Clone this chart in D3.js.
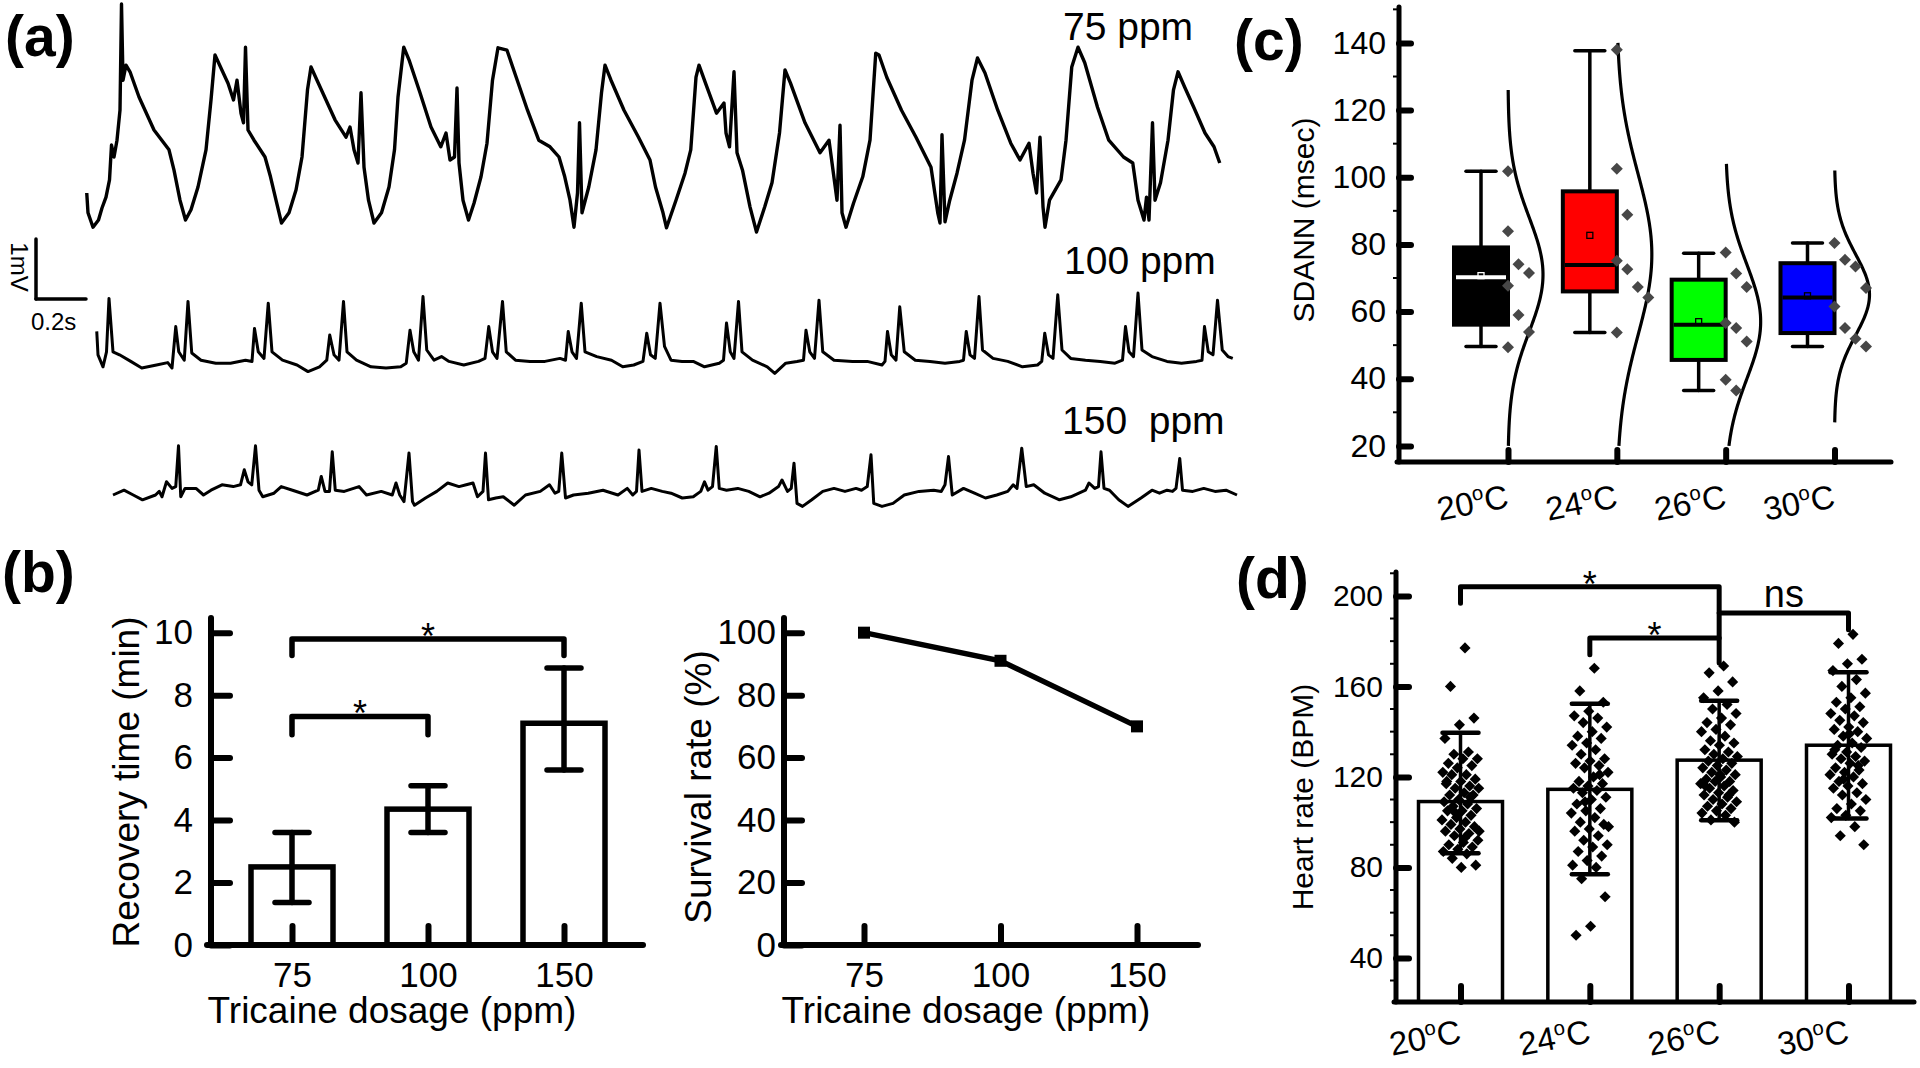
<!DOCTYPE html>
<html><head><meta charset="utf-8">
<script src="https://cdn.jsdelivr.net/npm/d3@7"></script>
<style>
body{margin:0;background:#fff}
svg{display:block}
text{font-family:"Liberation Sans",Arial,Helvetica,sans-serif;fill:#000}
</style>
</head><body>
<svg id="fig" width="1920" height="1068"></svg>
<script>
// ================= DATA =================
// (a) ECG traces: [time (ms), potential (mV)]
const trace75 = [[3,0.65],[8,0.32],[28,0.08],[50,0.20],[64,0.40],[80,0.58],[94,0.87],[102,1.45],[112,1.25],[124,1.53],[136,2.03],[142,3.80],[148,2.53],[160,2.78],[176,2.67],[212,2.25],[272,1.70],[332,1.37],[352,1.03],[376,0.53],[398,0.20],[420,0.37],[448,0.75],[480,1.37],[500,2.20],[516,2.95],[538,2.75],[568,2.48],[590,2.20],[604,2.53],[620,1.98],[630,1.82],[638,3.08],[648,1.70],[672,1.53],[716,1.25],[738,0.92],[760,0.53],[782,0.15],[812,0.32],[840,0.70],[864,1.25],[886,2.37],[900,2.75],[924,2.53],[996,1.87],[1040,1.58],[1056,1.75],[1072,1.37],[1088,1.15],[1100,2.32],[1112,1.08],[1130,0.53],[1152,0.15],[1182,0.32],[1212,0.75],[1234,1.37],[1248,2.25],[1271,3.08],[1292,2.87],[1336,2.32],[1380,1.75],[1419,1.42],[1440,1.65],[1456,1.20],[1474,1.25],[1484,2.40],[1492,1.15],[1508,0.53],[1530,0.20],[1552,0.48],[1580,0.92],[1604,1.48],[1626,2.53],[1648,3.07],[1684,3.03],[1715,2.65],[1766,2.03],[1811,1.53],[1856,1.42],[1892,1.25],[1915,0.92],[1936,0.53],[1952,0.08],[1966,0.65],[1974,1.82],[1984,0.32],[2011,0.75],[2040,1.37],[2062,2.32],[2076,2.78],[2100,2.53],[2152,2.03],[2210,1.58],[2256,1.20],[2278,0.75],[2308,0.32],[2322,0.07],[2360,0.53],[2396,0.98],[2419,1.37],[2440,2.58],[2452,2.78],[2478,2.48],[2522,1.98],[2552,2.15],[2560,1.65],[2574,1.42],[2592,2.67],[2604,1.32],[2626,1.03],[2656,0.42],[2682,0.00],[2715,0.42],[2744,0.82],[2774,1.65],[2796,2.70],[2818,2.48],[2876,1.82],[2936,1.32],[2972,1.53],[2988,1.03],[3004,0.53],[3016,1.78],[3024,0.32],[3040,0.08],[3070,0.48],[3107,0.92],[3136,1.53],[3159,2.98],[3172,2.95],[3203,2.58],[3262,2.03],[3320,1.58],[3351,1.32],[3380,1.08],[3407,0.32],[3416,0.15],[3424,1.62],[3436,0.17],[3455,0.53],[3484,0.98],[3514,1.53],[3544,2.53],[3566,2.90],[3596,2.65],[3647,2.03],[3699,1.48],[3736,1.20],[3772,1.48],[3788,0.98],[3802,0.65],[3816,1.58],[3828,0.42],[3836,0.08],[3854,0.53],[3900,0.87],[3920,1.53],[3943,2.75],[3968,3.08],[3995,2.82],[4046,2.08],[4091,1.53],[4150,1.25],[4187,1.15],[4208,0.53],[4232,0.20],[4242,0.58],[4252,0.20],[4266,1.82],[4276,0.53],[4298,0.82],[4328,1.53],[4350,2.37],[4368,2.67],[4394,2.42],[4431,2.08],[4476,1.65],[4512,1.42],[4535,1.15]];

const trace100 = [[43,0.81],[48,0.42],[68,0.22],[82,0.47],[92,1.36],[108,0.47],[134,0.42],[179,0.31],[223,0.20],[282,0.25],[327,0.29],[344,0.20],[359,0.89],[371,0.47],[393,0.33],[408,1.31],[423,0.45],[460,0.33],[519,0.28],[578,0.28],[638,0.33],[664,0.31],[674,0.86],[689,0.47],[712,0.36],[729,1.28],[744,0.47],[786,0.33],[844,0.25],[888,0.14],[934,0.22],[963,0.33],[975,0.75],[992,0.42],[1012,0.33],[1030,1.31],[1044,0.47],[1082,0.33],[1140,0.22],[1200,0.20],[1259,0.22],[1281,0.28],[1296,0.83],[1311,0.47],[1330,0.33],[1348,1.39],[1363,0.50],[1392,0.33],[1422,0.39],[1452,0.31],[1511,0.25],[1570,0.31],[1596,0.36],[1611,0.89],[1626,0.47],[1644,0.36],[1666,1.31],[1681,0.47],[1718,0.33],[1776,0.31],[1836,0.31],[1896,0.36],[1918,0.33],[1929,0.81],[1944,0.47],[1962,0.36],[1981,1.28],[1996,0.47],[2043,0.39],[2102,0.33],[2147,0.22],[2191,0.25],[2228,0.31],[2243,0.78],[2258,0.42],[2277,0.36],[2296,1.28],[2314,0.56],[2340,0.33],[2384,0.31],[2429,0.31],[2474,0.22],[2533,0.28],[2550,0.33],[2562,0.95],[2577,0.47],[2592,0.36],[2610,1.31],[2624,0.47],[2666,0.33],[2725,0.22],[2755,0.11],[2799,0.28],[2844,0.31],[2870,0.33],[2880,0.83],[2895,0.47],[2914,0.36],[2932,1.33],[2947,0.47],[2992,0.33],[3066,0.31],[3125,0.31],[3184,0.25],[3196,0.31],[3206,0.81],[3221,0.42],[3240,0.33],[3255,1.22],[3273,0.47],[3317,0.33],[3376,0.31],[3436,0.28],[3495,0.31],[3510,0.33],[3521,0.81],[3536,0.42],[3554,0.36],[3572,1.39],[3586,0.50],[3628,0.36],[3687,0.31],[3746,0.22],[3806,0.25],[3823,0.31],[3835,0.78],[3850,0.42],[3868,0.36],[3887,1.42],[3904,0.50],[3939,0.36],[3998,0.33],[4057,0.31],[4116,0.28],[4146,0.33],[4158,0.89],[4172,0.47],[4190,0.39],[4208,1.45],[4224,0.50],[4264,0.39],[4324,0.31],[4382,0.28],[4442,0.31],[4464,0.33],[4474,0.89],[4489,0.47],[4508,0.42],[4526,1.33],[4545,0.50],[4568,0.39],[4587,0.36]];

const trace150 = [[108,0.25],[152,0.33],[189,0.25],[226,0.17],[278,0.25],[293,0.31],[304,0.22],[322,0.47],[344,0.36],[359,0.39],[370,1.07],[379,0.22],[396,0.36],[440,0.36],[470,0.25],[500,0.33],[544,0.42],[589,0.39],[618,0.42],[633,0.67],[648,0.47],[663,0.42],[678,1.07],[692,0.33],[707,0.22],[752,0.28],[781,0.39],[826,0.33],[884,0.25],[929,0.33],[941,0.56],[956,0.31],[974,0.31],[985,0.97],[997,0.33],[1033,0.31],[1092,0.39],[1122,0.25],[1181,0.31],[1225,0.25],[1240,0.45],[1255,0.25],[1272,0.14],[1292,0.95],[1306,0.14],[1314,0.08],[1358,0.20],[1403,0.31],[1447,0.45],[1492,0.39],[1521,0.42],[1548,0.45],[1566,0.22],[1588,0.31],[1598,0.95],[1610,0.17],[1639,0.20],[1669,0.22],[1713,0.08],[1758,0.25],[1817,0.31],[1854,0.42],[1876,0.28],[1891,0.31],[1903,0.95],[1918,0.20],[1950,0.25],[2009,0.28],[2068,0.33],[2128,0.25],[2165,0.36],[2187,0.25],[2202,0.31],[2212,1.00],[2224,0.31],[2261,0.36],[2305,0.31],[2340,0.28],[2385,0.20],[2429,0.22],[2459,0.31],[2474,0.47],[2488,0.33],[2506,0.39],[2521,1.06],[2533,0.36],[2562,0.33],[2607,0.36],[2651,0.31],[2696,0.22],[2732,0.28],[2770,0.39],[2784,0.50],[2806,0.31],[2821,0.36],[2832,0.78],[2844,0.11],[2866,0.06],[2903,0.17],[2947,0.31],[2992,0.36],[3036,0.31],[3080,0.36],[3102,0.33],[3125,0.39],[3140,0.92],[3151,0.11],[3184,0.06],[3228,0.11],[3273,0.25],[3332,0.31],[3391,0.33],[3421,0.31],[3436,0.42],[3450,0.89],[3465,0.25],[3510,0.36],[3554,0.28],[3598,0.20],[3643,0.25],[3687,0.31],[3709,0.42],[3724,0.36],[3743,1.03],[3761,0.39],[3791,0.42],[3835,0.28],[3894,0.17],[3939,0.22],[3998,0.33],[4012,0.45],[4035,0.36],[4050,0.39],[4060,0.97],[4072,0.36],[4094,0.33],[4131,0.17],[4168,0.06],[4220,0.20],[4264,0.33],[4294,0.28],[4324,0.33],[4346,0.31],[4360,0.36],[4375,0.86],[4386,0.33],[4427,0.31],[4471,0.36],[4516,0.31],[4560,0.33],[4604,0.25]];

const traceLabels = ["75 ppm", "100 ppm", "150  ppm"];
const scaleBarTime = 200;   // ms  (0.2 s)
const scaleBarVolt = 1;     // mV

// (b) tricaine dosage
const doses = ["75", "100", "150"];
const recoveryMean = [2.5, 4.35, 7.1];
const recoveryHigh = [3.6, 5.1, 8.87];
const recoveryLow = [1.36, 3.6, 5.6];
const recoveryTicks = [0, 2, 4, 6, 8, 10];
const recoverySig = [
  {a: "75", b: "150", y: 9.8, legA: 9.27, legB: 9.27, label: "*"},
  {a: "75", b: "100", y: 7.32, legA: 6.73, legB: 6.73, label: "*"}
];
const survival = [100, 91, 70];
const survivalTicks = [0, 20, 40, 60, 80, 100];

// (c) SDANN box charts
const temps = ["20", "24", "26", "30"];
const sdannWhiskerLow = [49.6, 53.8, 36.5, 49.6];
const sdannQ1 = [56.1, 66.0, 45.6, 53.6];
const sdannMedian = [70.2, 73.9, 56.1, 64.2];
const sdannQ3 = [79.1, 95.8, 69.5, 74.4];
const sdannWhiskerHigh = [101.8, 137.7, 77.4, 80.4];
const sdannMean = [70.7, 82.7, 57.0, 64.7];
const sdannPoints = [
  [101.8, 83.9, 74.1, 71.5, 67.7, 59.0, 53.9, 49.4],
  [138.0, 102.5, 88.8, 75.1, 72.6, 67.3, 64.2, 53.8],
  [77.6, 71.3, 67.3, 56.6, 55.1, 51.1, 39.7, 36.5],
  [80.4, 75.4, 73.4, 67.0, 61.5, 55.1, 51.9, 49.6]
];
const sdannCurveMu = [71, 77, 57, 65];
const sdannCurveSd = [17, 24, 17, 12];
const sdannCurveLo = [20, 20, 20, 27];
const sdannCurveHi = [126, 140, 104, 102];
const sdannTicks = [20, 40, 60, 80, 100, 120, 140];

// (d) heart rate
const hrMean = [109.1, 114.5, 127.4, 134.0];
const hrHigh = [139.5, 152.3, 153.7, 166.2];
const hrLow = [86.2, 77.0, 100.8, 101.6];
const hrPoints = [
  [177,160,146,143,137,131,130,128,128,126,125,124,122,121,121,119,118,117,116,115,115,113,112,112,110,109,108,107,106,105,105,103,102,101,100,99,98,97,96,95,94,92,91,90,89,88,87,86,84,81,80,118,111,104,96,93],
  [168,158,153,149,147,146,144,142,140,138,137,135,134,132,130,128,127,126,125,124,122,120,118,117,116,115,114,113,111,110,108,106,105,104,102,100,99,97,96,94,92,90,89,87,85,83,81,80,75,67,54,50,121,109,98],
  [169,166,162,158,155,152,150,148,146,144,143,141,140,138,136,135,134,132,131,130,129,128,127,126,125,124,123,122,121,120,119,118,118,117,116,115,114,113,112,111,110,109,108,107,106,105,104,103,101,100,121,116,112],
  [183,179,172,170,167,163,160,157,155,153,151,150,148,147,145,144,142,141,140,138,137,135,134,133,131,130,129,128,127,126,124,123,122,121,120,118,117,116,115,113,112,110,108,106,105,103,102,98,94,90,139,132,125,119]
];
const hrSig = [
  {a: "20", b: "26", y: 204.1, legA: 196.8, legB: 192.4, label: "*"},
  {a: "26", b: "30", y: 192.4, legA: 181.4, legB: 185.0, label: "ns"},
  {a: "24", b: "26", y: 181.4, legA: 174.0, legB: 170.3, label: "*"}
];
const hrTicks = [40, 80, 120, 160, 200];

// ================= DRAWING =================
const svg = d3.select("#fig");
const boxColors = ["#000000", "#ff0000", "#00ff00", "#0000ff"];

function panelLabel(txt, x, y) {
  svg.append("text").attr("x", x).attr("y", y).attr("font-size", 57)
    .attr("font-weight", "bold").text(txt);
}
function hline(g, x1, x2, y, sw) {
  g.append("line").attr("x1", x1).attr("x2", x2).attr("y1", y).attr("y2", y)
    .attr("stroke", "#000").attr("stroke-width", sw).attr("stroke-linecap", "round");
}
function vline(g, x, y1, y2, sw, color) {
  g.append("line").attr("x1", x).attr("x2", x).attr("y1", y1).attr("y2", y2)
    .attr("stroke", color || "#000").attr("stroke-width", sw).attr("stroke-linecap", "round");
}
function styleAxis(g, sw, fs) {
  g.attr("font-family", null).attr("font-size", null);
  g.select(".domain").remove();
  g.selectAll(".tick line").attr("stroke", "#000").attr("stroke-width", sw).attr("stroke-linecap", "round");
  g.selectAll(".tick text").attr("font-size", fs).attr("fill", "#000");
}
function degLabel(g, x, y, num, fs) {
  const t = g.append("text").attr("transform", `translate(${x},${y}) rotate(-11)`)
    .attr("text-anchor", "end").attr("font-size", fs);
  t.append("tspan").text(num);
  t.append("tspan").attr("dy", -13).attr("font-size", fs * 0.62).text("o");
  t.append("tspan").attr("dy", 13).text("C");
}

// ---------- (a) ----------
panelLabel("(a)", 5, 56);
const tX = d3.scaleLinear().domain([0, 4600]).range([86, 86 + 4600 * 0.25]);
const ga = svg.append("g");
const traceSet = [
  {data: trace75, base: 232, lx: 1063, ly: 40, sw: 3.4},
  {data: trace100, base: 380, lx: 1064, ly: 274, sw: 3.0},
  {data: trace150, base: 510, lx: 1062, ly: 434, sw: 3.0}
];
traceSet.forEach((td, i) => {
  const y = d3.scaleLinear().domain([0, 1]).range([td.base, td.base - 60]);
  ga.append("path").datum(td.data)
    .attr("d", d3.line().x(d => tX(d[0])).y(d => y(d[1])))
    .attr("fill", "none").attr("stroke", "#000").attr("stroke-width", td.sw)
    .attr("stroke-linejoin", "round");
  ga.append("text").attr("x", td.lx).attr("y", td.ly).attr("font-size", 39)
    .attr("xml:space", "preserve").style("white-space", "pre").text(traceLabels[i]);
});
// scale bar
const sbY = d3.scaleLinear().domain([0, 1]).range([299, 239]);
vline(ga, tX(-scaleBarTime), sbY(0), sbY(scaleBarVolt), 3.5);
hline(ga, tX(-scaleBarTime), tX(0), sbY(0), 3.5);
ga.append("text").attr("transform", `translate(11,${(sbY(0) + sbY(1)) / 2 - 2}) rotate(90)`)
  .attr("text-anchor", "middle").attr("font-size", 24).text("1mV");
ga.append("text").attr("x", 31).attr("y", 330).attr("font-size", 24).text("0.2s");

// ---------- (b) left ----------
panelLabel("(b)", 2, 592);
const gb = svg.append("g");
const bY = d3.scaleLinear().domain([0, 10.47]).range([945, 618]);
const bX = d3.scalePoint().domain(doses).range([292, 564]);
const bBarW = 82;
gb.selectAll("rect.bar").data(doses).join("rect").attr("class", "bar")
  .attr("x", d => bX(d) - bBarW / 2).attr("width", bBarW)
  .attr("y", (d, i) => bY(recoveryMean[i])).attr("height", (d, i) => bY(0) - bY(recoveryMean[i]))
  .attr("fill", "#fff").attr("stroke", "#000").attr("stroke-width", 5.5);
doses.forEach((d, i) => {
  vline(gb, bX(d), bY(recoveryLow[i]), bY(recoveryHigh[i]), 5.5);
  hline(gb, bX(d) - 17, bX(d) + 17, bY(recoveryLow[i]), 5.5);
  hline(gb, bX(d) - 17, bX(d) + 17, bY(recoveryHigh[i]), 5.5);
});
const gbY = gb.append("g").attr("transform", "translate(211,0)")
  .call(d3.axisLeft(bY).tickValues(recoveryTicks).tickSize(-19).tickPadding(18).tickFormat(d3.format("d")));
styleAxis(gbY, 6, 35);
const gbX = gb.append("g").attr("transform", "translate(0,945)")
  .call(d3.axisBottom(bX).tickSize(-19).tickPadding(17));
styleAxis(gbX, 6, 35);
vline(gb, 211, 618, 945, 6);
hline(gb, 207, 643, 945, 6);
recoverySig.forEach(s => {
  const x1 = bX(s.a), x2 = bX(s.b), y = bY(s.y);
  gb.append("path").attr("d", `M${x1},${bY(s.legA)}L${x1},${y}L${x2},${y}L${x2},${bY(s.legB)}`)
    .attr("fill", "none").attr("stroke", "#000").attr("stroke-width", 5.5)
    .attr("stroke-linecap", "round").attr("stroke-linejoin", "round");
  gb.append("text").attr("x", (x1 + x2) / 2).attr("y", y + 10).attr("text-anchor", "middle")
    .attr("font-size", 36).text(s.label);
});
gb.append("text").attr("transform", `translate(139,782) rotate(-90)`).attr("text-anchor", "middle")
  .attr("font-size", 37).text("Recovery time (min)");
gb.append("text").attr("x", 392).attr("y", 1023).attr("text-anchor", "middle")
  .attr("font-size", 37).text("Tricaine dosage (ppm)");

// ---------- (b) right ----------
const gs = svg.append("g");
const sY = d3.scaleLinear().domain([0, 104.7]).range([945, 618]);
const sX = d3.scalePoint().domain(doses).range([864, 1137]);
const gsY = gs.append("g").attr("transform", "translate(784,0)")
  .call(d3.axisLeft(sY).tickValues(survivalTicks).tickSize(-18).tickPadding(8));
styleAxis(gsY, 6, 35);
const gsX = gs.append("g").attr("transform", "translate(0,945)")
  .call(d3.axisBottom(sX).tickSize(-19).tickPadding(17));
styleAxis(gsX, 6, 35);
vline(gs, 784, 618, 945, 6);
hline(gs, 781, 1198, 945, 6);
gs.append("path").datum(survival)
  .attr("d", d3.line().x((d, i) => sX(doses[i])).y(d => sY(d)))
  .attr("fill", "none").attr("stroke", "#000").attr("stroke-width", 5.5);
gs.selectAll("rect.pt").data(survival).join("rect").attr("class", "pt")
  .attr("x", (d, i) => sX(doses[i]) - 6).attr("y", d => sY(d) - 6)
  .attr("width", 12).attr("height", 12).attr("fill", "#000");
gs.append("text").attr("transform", `translate(711,787) rotate(-90)`).attr("text-anchor", "middle")
  .attr("font-size", 37).text("Survival rate (%)");
gs.append("text").attr("x", 966).attr("y", 1023).attr("text-anchor", "middle")
  .attr("font-size", 37).text("Tricaine dosage (ppm)");

// ---------- (c) ----------
panelLabel("(c)", 1234, 60);
const gc = svg.append("g");
const cY = d3.scaleLinear().domain([15.2, 150.7]).range([462, 7]);
const cX = d3.scalePoint().domain(temps).range([1508, 1834.5]);
const cBoxW = 54, curveW = 35;
// distribution curves
temps.forEach((t, i) => {
  const vs = d3.range(sdannCurveLo[i], sdannCurveHi[i] + 0.01, 0.5);
  gc.append("path").datum(vs)
    .attr("d", d3.line()
      .x(v => cX(t) + curveW * Math.exp(-0.5 * Math.pow((v - sdannCurveMu[i]) / sdannCurveSd[i], 2)))
      .y(v => cY(v)).curve(d3.curveBasis))
    .attr("fill", "none").attr("stroke", "#000").attr("stroke-width", 3.2);
});
// whiskers
temps.forEach((t, i) => {
  const cx = cX(t) - cBoxW / 2;
  vline(gc, cx, cY(sdannWhiskerLow[i]), cY(sdannWhiskerHigh[i]), 3.5);
  hline(gc, cx - 15, cx + 15, cY(sdannWhiskerLow[i]), 3.5);
  hline(gc, cx - 15, cx + 15, cY(sdannWhiskerHigh[i]), 3.5);
});
gc.selectAll("rect.box").data(temps).join("rect").attr("class", "box")
  .attr("x", d => cX(d) - cBoxW).attr("width", cBoxW)
  .attr("y", (d, i) => cY(sdannQ3[i])).attr("height", (d, i) => cY(sdannQ1[i]) - cY(sdannQ3[i]))
  .attr("fill", (d, i) => boxColors[i]).attr("stroke", "#000").attr("stroke-width", 4);
temps.forEach((t, i) => {
  const inner = i === 0 ? "#fff" : "#000";
  gc.append("line").attr("x1", cX(t) - cBoxW + 2).attr("x2", cX(t) - 2)
    .attr("y1", cY(sdannMedian[i])).attr("y2", cY(sdannMedian[i]))
    .attr("stroke", inner).attr("stroke-width", 4);
  gc.append("rect").attr("x", cX(t) - cBoxW / 2 - 3).attr("y", cY(sdannMean[i]) - 3)
    .attr("width", 6).attr("height", 6).attr("fill", "none").attr("stroke", inner).attr("stroke-width", 1.3);
});
// data points (swarm placement)
function swarmOffsets(vals, yScale, minGap, step) {
  const order = d3.range(vals.length).sort((a, b) => vals[b] - vals[a]);
  const slots = [];
  const off = new Array(vals.length);
  order.forEach(idx => {
    const py = yScale(vals[idx]);
    let k = 0;
    while (slots[k] && slots[k].some(q => Math.abs(q - py) < minGap)) k++;
    (slots[k] = slots[k] || []).push(py);
    off[idx] = k * step;
  });
  return off;
}
const diamond = d3.symbol().type(d3.symbolSquare).size(72);
temps.forEach((t, i) => {
  const offs = swarmOffsets(sdannPoints[i], cY, 48, 10.5);
  gc.selectAll(null).data(sdannPoints[i]).join("path")
    .attr("d", diamond)
    .attr("transform", (v, j) => `translate(${cX(t) + offs[j]},${cY(v)}) rotate(45)`)
    .attr("fill", "#474747");
});
const gcY = gc.append("g").attr("transform", "translate(1399,0)")
  .call(d3.axisLeft(cY).tickValues(sdannTicks).tickSize(-12).tickPadding(13));
styleAxis(gcY, 6, 32);
d3.range(30, 151, 20).forEach(v => {
  gc.append("line").attr("x1", 1393).attr("x2", 1399).attr("y1", cY(v)).attr("y2", cY(v))
    .attr("stroke", "#000").attr("stroke-width", 2);
});
const gcX = gc.append("g").attr("transform", "translate(0,462)")
  .call(d3.axisBottom(cX).tickSize(-12).tickFormat(""));
styleAxis(gcX, 6, 32);
vline(gc, 1399, 7, 462, 5);
hline(gc, 1397, 1891, 462, 5);
temps.forEach(t => degLabel(gc, cX(t) + 2, 507, t, 33));
gc.append("text").attr("transform", `translate(1314,220) rotate(-90)`).attr("text-anchor", "middle")
  .attr("font-size", 30).text("SDANN (msec)");

// ---------- (d) ----------
panelLabel("(d)", 1236, 598);
const gd = svg.append("g");
const dY = d3.scaleLinear().domain([20.5, 210.7]).range([1002, 571.7]);
const dX = d3.scalePoint().domain(temps).range([1460.5, 1848.5]);
const dBarW = 84;
gd.selectAll("rect.bar").data(temps).join("rect").attr("class", "bar")
  .attr("x", d => dX(d) - dBarW / 2).attr("width", dBarW)
  .attr("y", (d, i) => dY(hrMean[i])).attr("height", (d, i) => dY(20.5) - dY(hrMean[i]))
  .attr("fill", "#fff").attr("stroke", "#000").attr("stroke-width", 3.5);
const diamondD = d3.symbol().type(d3.symbolSquare).size(62);
temps.forEach((t, i) => {
  gd.selectAll(null).data(hrPoints[i]).join("path")
    .attr("d", diamondD)
    .attr("transform", (v, j) => {
      const jit = (((j + 1) * 0.618034) % 1 - 0.5) * 38;
      return `translate(${dX(t) + jit},${dY(v)}) rotate(45)`;
    })
    .attr("fill", "#000");
});
temps.forEach((t, i) => {
  vline(gd, dX(t), dY(hrLow[i]), dY(hrHigh[i]), 3.5);
  hline(gd, dX(t) - 18, dX(t) + 18, dY(hrLow[i]), 4.5);
  hline(gd, dX(t) - 18, dX(t) + 18, dY(hrHigh[i]), 4.5);
});
hrSig.forEach(s => {
  const x1 = dX(s.a), x2 = dX(s.b), y = dY(s.y);
  gd.append("path").attr("d", `M${x1},${dY(s.legA)}L${x1},${y}L${x2},${y}L${x2},${dY(s.legB)}`)
    .attr("fill", "none").attr("stroke", "#000").attr("stroke-width", 5)
    .attr("stroke-linecap", "round").attr("stroke-linejoin", "round");
  const ly = s.label === "ns" ? y - 6 : y + 10;
  gd.append("text").attr("x", (x1 + x2) / 2).attr("y", ly).attr("text-anchor", "middle")
    .attr("font-size", s.label === "ns" ? 38 : 36).text(s.label);
});
const gdY = gd.append("g").attr("transform", "translate(1396,0)")
  .call(d3.axisLeft(dY).tickValues(hrTicks).tickSize(-13).tickPadding(13));
styleAxis(gdY, 6, 30);
d3.range(30, 211, 10).filter(v => v % 40 !== 0).forEach(v => {
  gd.append("line").attr("x1", 1390).attr("x2", 1396).attr("y1", dY(v)).attr("y2", dY(v))
    .attr("stroke", "#000").attr("stroke-width", 2);
});
const gdX = gd.append("g").attr("transform", "translate(0,1002)")
  .call(d3.axisBottom(dX).tickSize(-16).tickFormat(""));
styleAxis(gdX, 6, 30);
vline(gd, 1396, 572, 1002, 5);
hline(gd, 1394, 1914, 1002, 5);
temps.forEach(t => degLabel(gd, dX(t) + 2, 1042, t, 33));
gd.append("text").attr("transform", `translate(1313,797) rotate(-90)`).attr("text-anchor", "middle")
  .attr("font-size", 30).text("Heart rate (BPM)");
</script>
</body></html>
